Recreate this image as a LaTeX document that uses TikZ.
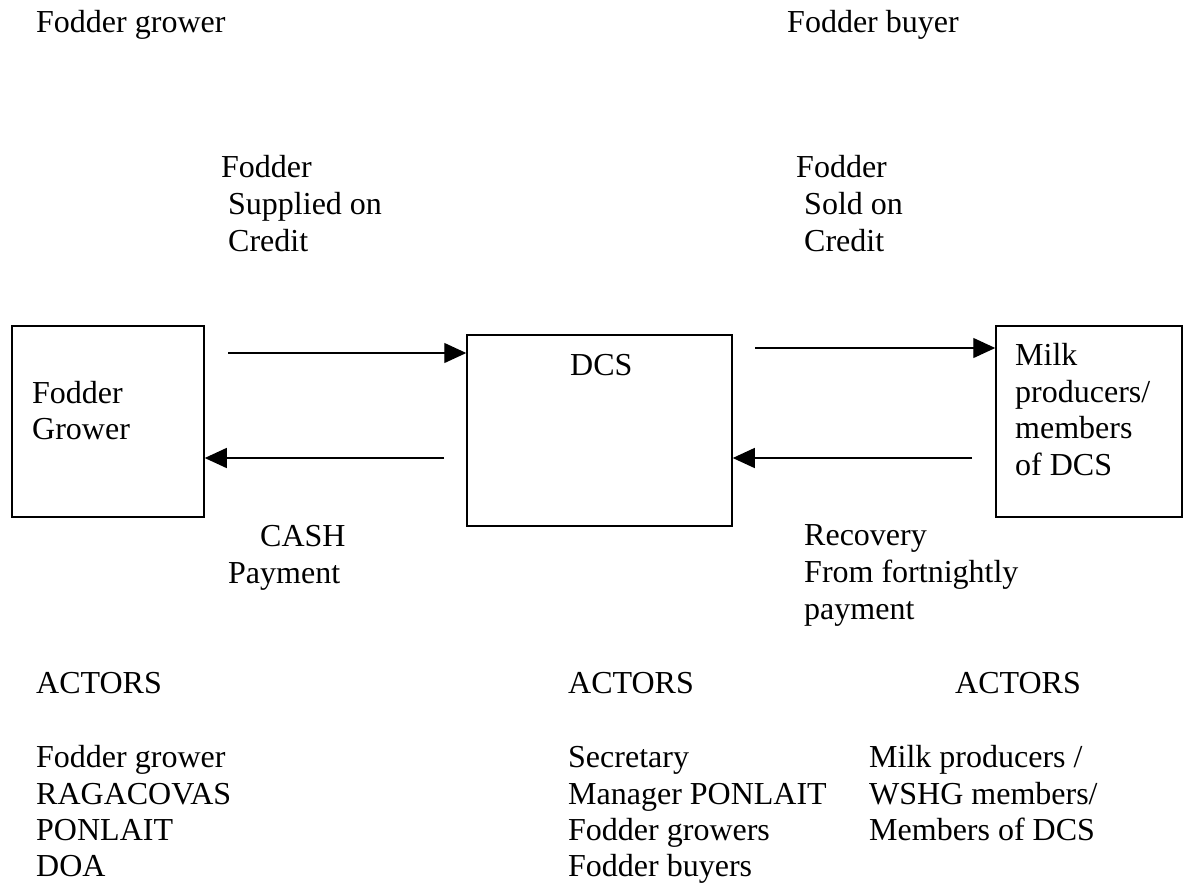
\documentclass[tikz,border=0pt]{standalone}
\usepackage{fontspec}
\setmainfont{Liberation Serif}
\usetikzlibrary{arrows.meta}
\begin{document}
\begin{tikzpicture}[x=1pt,y=-1pt,
  lbl/.style={anchor=base west, inner sep=0pt,
              font=\fontsize{32}{36.6}\selectfont},
  box/.style={draw, line width=1.5pt, inner sep=0pt, minimum height=191pt},
  flow/.style={line width=1.3pt, -{Triangle[length=22pt,width=20pt]}}]
\useasboundingbox (0,0) rectangle (1183,884);

% headings
\node[lbl] (hgrower) at (36,32) {Fodder grower};
\node[lbl] (hbuyer)  at (787,32) {Fodder buyer};

% flow labels above the arrows
\node[lbl] (sup1) at (221,177) {Fodder};
\node[lbl] (sup2) at (228,214) {Supplied on};
\node[lbl] (sup3) at (228,251) {Credit};
\node[lbl] (sold1) at (796,177) {Fodder};
\node[lbl] (sold2) at (804,214) {Sold on};
\node[lbl] (sold3) at (804,251) {Credit};

% the three parties
\node[box, minimum width=192pt] (grower) at (108,421.5) {};
\node[box, minimum width=265pt] (dcs)    at (599.5,430.5) {};
\node[box, minimum width=186pt] (milk)   at (1089,421.5) {};

\node[lbl] (gr1) at (32,403) {Fodder};
\node[lbl] (gr2) at (32,439) {Grower};
\node[lbl] (dcstxt) at (570,375) {DCS};
\node[lbl] (mk1) at (1015,365) {Milk};
\node[lbl] (mk2) at (1015,402) {producers/};
\node[lbl] (mk3) at (1015,438) {members};
\node[lbl] (mk4) at (1015,475) {of DCS};

% connectors
\coordinate (g1) at (228,353);
\coordinate (d1) at (444,458);
\coordinate (d2) at (755,348);
\coordinate (m1) at (972,458);
\draw[flow] (g1) -- (g1 -| dcs.west);
\draw[flow] (d1) -- (d1 -| grower.east);
\draw[flow] (d2) -- (d2 -| milk.west);
\draw[flow] (m1) -- (m1 -| dcs.east);

% flow labels below the arrows
\node[lbl] (cash1) at (260,546) {CASH};
\node[lbl] (cash2) at (228,583) {Payment};
\node[lbl] (rec1) at (804,545) {Recovery};
\node[lbl] (rec2) at (804,582) {From fortnightly};
\node[lbl] (rec3) at (804,619) {payment};

% actors
\node[lbl] (act1) at (36,693)  {ACTORS};
\node[lbl] (act2) at (568,693) {ACTORS};
\node[lbl] (act3) at (955,693) {ACTORS};

\node[lbl] (la1) at (36,767) {Fodder grower};
\node[lbl] (la2) at (36,804) {RAGACOVAS};
\node[lbl] (la3) at (36,840) {PONLAIT};
\node[lbl] (la4) at (36,876) {DOA};

\node[lbl] (lb1) at (568,767) {Secretary};
\node[lbl] (lb2) at (568,804) {Manager PONLAIT};
\node[lbl] (lb3) at (568,840) {Fodder growers};
\node[lbl] (lb4) at (568,876) {Fodder buyers};

\node[lbl] (lc1) at (869,767) {Milk producers /};
\node[lbl] (lc2) at (869,804) {WSHG members/};
\node[lbl] (lc3) at (869,840) {Members of DCS};
\end{tikzpicture}
\end{document}
